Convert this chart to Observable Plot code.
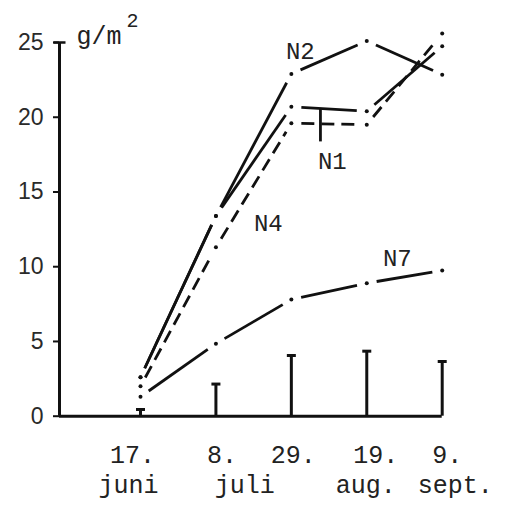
<!DOCTYPE html>
<html>
<head>
<meta charset="utf-8">
<script src="https://cdn.jsdelivr.net/npm/d3@7"></script>
<script src="https://cdn.jsdelivr.net/npm/@observablehq/plot@0.6"></script>
<style>
  html, body { margin: 0; padding: 0; background: #fff; }
  #chart { width: 506px; height: 510px; }
</style>
</head>
<body>
<div id="chart"></div>
<script>
// ---- data (days counted from 17. juni) ----
const sampleDays = [0, 21, 42, 63, 84];
const dayLabels = ["17.", "8.", "29.", "19.", "9."];
const monthLabels = ["juni", "juli", "aug.", "sept."];
const monthDays = [0, 31.5, 63, 84];           // juli label sits between 8. and 29. juli
const seriesNames = ["N2", "N1", "N4", "N7"];
const N2 = [2.6, 13.4, 22.9, 25.1, 22.85];
const N1 = [2.6, 13.4, 20.7, 20.4, 24.75];
const N4 = [2.0, 11.3, 19.6, 19.5, 25.6];
const N7 = [1.3, 4.85, 7.8, 8.9, 9.75];
const lsd = [0.45, 2.15, 4.06, 4.35, 3.66];
const yTicks = [0, 5, 10, 15, 20, 25];
const seriesLabelPos = { N2: [44.5, 24.4], N1: [53.4, 17.05], N4: [35.6, 12.9], N7: [71.5, 10.55] };
const n1Pointer = { day: 50.1, from: 18.35, to: 20.55 };

// ---- layout (styles / nudges, not data) ----
const xMin = -22.55, xMax = 84;
const dayNudge = [-8, 6, 2, 9, 5];
const monthNudge = [-12, -9, -1, 13];
const INK = "#111";
const MONO = "'Courier New', 'Nimbus Mono PS', 'Liberation Mono', monospace";
const SANS = "'Liberation Sans', 'DejaVu Sans', sans-serif";

const values = { N2, N1, N4, N7 };
const points = [];
const segments = [];
for (const name of seriesNames) {
  const v = values[name];
  v.forEach((val, i) => {
    points.push({ name, day: sampleDays[i], v: val });
    if (i > 0) segments.push({ name, x1: sampleDays[i - 1], y1: v[i - 1], x2: sampleDays[i], y2: val });
  });
}
const solidSegs = segments.filter(d => d.name !== "N4");
const dashSegs = segments.filter(d => d.name === "N4");
const lsdData = sampleDays.map((d, i) => ({ day: d, v: lsd[i] }));
const labelData = seriesNames.map(n => ({ name: n, day: seriesLabelPos[n][0], v: seriesLabelPos[n][1] }));

const hbar = {
  draw(context, size) {
    const r = Math.sqrt(size / Math.PI);
    context.moveTo(-r, 0);
    context.lineTo(r, 0);
  }
};

function shiftText(nudges, dyPx) {
  return function (index, scales, channels, dimensions, context, next) {
    const g = next(index, scales, channels, dimensions, context);
    d3.select(g).selectAll("text").each(function (_, j) {
      const i = index[j];
      d3.select(this).attr("transform", null)
        .attr("x", channels.x[i] + nudges[i])
        .attr("y", channels.y[i] + dyPx);
    });
    return g;
  };
}

const chart = Plot.plot({
  width: 506,
  height: 510,
  marginLeft: 59,
  marginRight: 64.3,
  marginTop: 42,
  marginBottom: 94.3,
  style: { background: "#fff", color: INK, overflow: "visible" },
  x: { type: "linear", domain: [xMin, xMax], axis: null },
  y: { type: "linear", domain: [0, 25], axis: null },
  marks: [
    // y axis
    Plot.ruleX([xMin], { y1: 0, y2: 25, stroke: INK, strokeWidth: 3 }),
    Plot.axisY(yTicks, {
      anchor: "left", tickSize: 6, tickPadding: 10, strokeWidth: 2, label: null,
      fontSize: 23, fontFamily: SANS, fill: "#2a2a2a"
    }),
    Plot.dot([25], { x: () => xMin, y: d => d, symbol: hbar, r: 6, stroke: INK, strokeWidth: 2.5, fill: "none" }),
    // x axis line
    Plot.ruleY([0], { x1: xMin, x2: xMax, stroke: INK, strokeWidth: 3 }),
    // LSD bars
    Plot.ruleX(lsdData, { x: "day", y1: 0, y2: "v", stroke: INK, strokeWidth: 3 }),
    Plot.dot(lsdData, { x: "day", y: "v", symbol: hbar, r: 4.5, stroke: INK, strokeWidth: 3, fill: "none" }),
    // series segments with gaps around the points
    Plot.arrow(solidSegs, {
      x1: "x1", y1: "y1", x2: "x2", y2: "y2", headLength: 0, inset: 10,
      stroke: INK, strokeWidth: 2.8, strokeLinecap: "butt"
    }),
    Plot.arrow(dashSegs, {
      x1: "x1", y1: "y1", x2: "x2", y2: "y2", headLength: 0, inset: 10,
      stroke: INK, strokeWidth: 2.8, strokeLinecap: "butt", strokeDasharray: "13,7"
    }),
    Plot.dot(points, { x: "day", y: "v", r: 2, fill: INK, stroke: "none" }),
    // N1 pointer
    Plot.ruleX([n1Pointer], { x: "day", y1: "from", y2: "to", stroke: INK, strokeWidth: 2.8 }),
    // series labels
    Plot.text(labelData, {
      x: "day", y: "v", text: "name", fontSize: 24, fontFamily: MONO, fill: "#222"
    }),
    // unit label
    Plot.text(["g/m"], { x: () => xMin, y: () => 25, text: d => d, dx: 17, dy: -7, textAnchor: "start", fontSize: 25, fontFamily: MONO, fill: "#222" }),
    Plot.text(["2"], { x: () => xMin, y: () => 25, text: d => d, dx: 73, dy: -22, fontSize: 20, fontFamily: MONO, fill: "#222" }),
    // x tick labels (two lines)
    Plot.text(dayLabels.map((t, i) => ({ t, day: sampleDays[i] })), {
      x: "day", y: () => 0, text: "t", fontSize: 25, fontFamily: MONO, fill: "#222",
      render: shiftText(dayNudge, 46.5)
    }),
    Plot.text(monthLabels.map((t, i) => ({ t, day: monthDays[i] })), {
      x: "day", y: () => 0, text: "t", fontSize: 25, fontFamily: MONO, fill: "#222",
      render: shiftText(monthNudge, 76.5)
    })
  ]
});
document.getElementById("chart").appendChild(chart);
</script>
</body>
</html>
